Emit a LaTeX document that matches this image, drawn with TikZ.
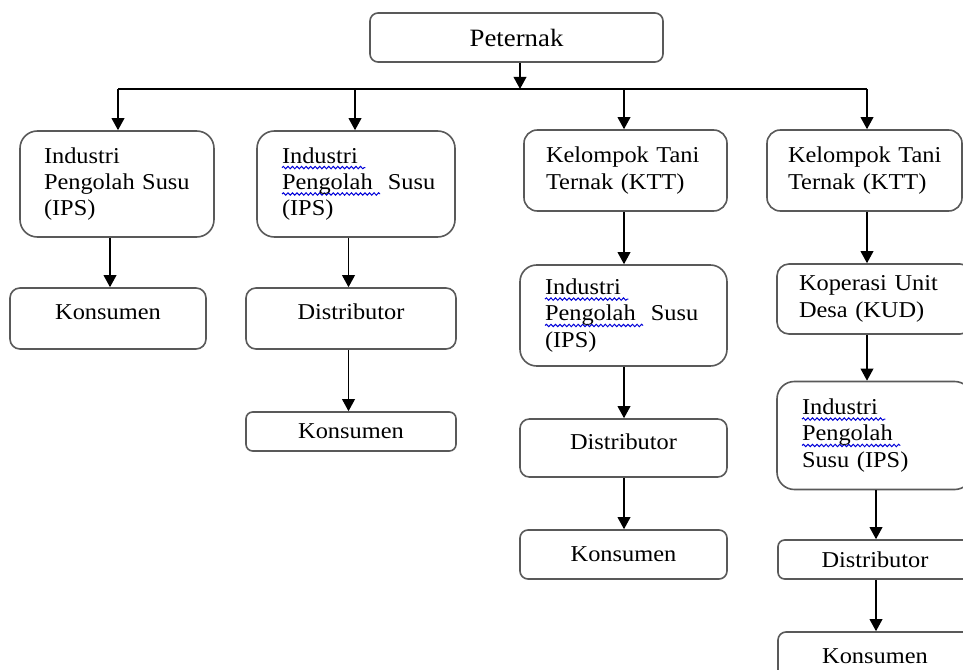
\documentclass[tikz,border=0pt]{standalone}
\usepackage{fontspec}
\setmainfont{Liberation Serif}[FakeStretch=1.075]
\usetikzlibrary{arrows.meta,calc,decorations.pathmorphing}
\newcommand\spellmark[1]{\leavevmode\setbox0\hbox{#1}%
  \rlap{\tikz[overlay,baseline=0pt,x=1pt,y=1pt,sharp corners]\draw[blue!85!black,line width=0.75pt,
    decorate,decoration={snake,segment length=3.4pt,amplitude=0.9pt}]
    (0,-3.4) -- (\the\wd0,-3.4);}\box0}
\begin{document}
\begin{tikzpicture}[x=0.75pt,y=-0.75pt,
  box/.style={draw=black!65,line width=1.2pt,fill=white,inner sep=0pt,
    font=\fontsize{17pt}{19.8pt}\selectfont},
  cbox/.style={box,align=center},
  lbox/.style={box,align=left},
  conn/.style={line width=1.1pt,draw=black},
  arr/.style={conn,-{Triangle[width=9.5pt,length=9pt]}}]
\useasboundingbox (0,0) rectangle (963,670);
\fill[white] (0,0) rectangle (963,670);
\clip (0,0) rectangle (963,670);

% nodes
\node[cbox,minimum width=219.75pt,minimum height=36.75pt,rounded corners=6pt,
  font=\fontsize{18.7pt}{21pt}\selectfont] (peternak) at (516.5,37.5) {Peternak};

\node[lbox,text width=109.5pt,inner xsep=18pt,minimum height=79.5pt,rounded corners=13pt] (ips1) at (117,184)
  {\mbox{Industri}\\\mbox{Pengolah Susu}\\\mbox{(IPS)}};
\node[lbox,text width=111pt,inner xsep=18.75pt,minimum height=79.5pt,rounded corners=13pt] (ips2) at (356,184)
  {\mbox{\spellmark{Industri\ }}\\\mbox{\spellmark{Pengolah\ }\ Susu}\\\mbox{(IPS)}};
\node[lbox,text width=119.25pt,inner xsep=16.5pt,minimum height=60.75pt,rounded corners=10pt] (ktt3) at (625.5,170.5)
  {\mbox{Kelompok Tani}\\\mbox{Ternak (KTT)}};
\node[lbox,text width=114.75pt,inner xsep=15.75pt,minimum height=60.75pt,rounded corners=10pt] (ktt4) at (864.5,170.5)
  {\mbox{Kelompok Tani}\\\mbox{Ternak (KTT)}};

\node[cbox,minimum width=147pt,minimum height=45.75pt,rounded corners=7.5pt,text depth=10pt] (kons1) at (108,318.5) {Konsumen};
\node[cbox,minimum width=157.5pt,minimum height=45.75pt,rounded corners=7.5pt,text depth=10pt] (dist2) at (351,318.5) {Distributor};
\node[cbox,minimum width=157.5pt,minimum height=29.25pt,rounded corners=5pt] (kons2) at (351,431.5) {Konsumen};

\node[lbox,text width=117.75pt,inner xsep=18.75pt,minimum height=75.75pt,rounded corners=12.5pt] (ips3) at (623.5,315.5)
  {\mbox{\spellmark{Industri\ }}\\\mbox{\spellmark{Pengolah\ }\ Susu}\\\mbox{(IPS)}};
\node[cbox,minimum width=155.25pt,minimum height=43.5pt,rounded corners=7pt,text depth=9pt] (dist3) at (623.5,448) {Distributor};
\node[cbox,minimum width=155.25pt,minimum height=36.75pt,rounded corners=6pt] (kons3) at (623.5,554.5) {Konsumen};

\node[lbox,text width=113.25pt,inner xsep=16.5pt,minimum height=52.5pt,rounded corners=9pt] (kud) at (874.5,299)
  {\mbox{Koperasi Unit}\\\mbox{Desa (KUD)}};
\node[lbox,text width=108.75pt,inner xsep=18.75pt,minimum height=81pt,rounded corners=13pt] (ips4) at (874.5,435.5)
  {\mbox{\spellmark{Industri\ }}\\\mbox{\spellmark{Pengolah\ }}\\\mbox{Susu (IPS)}};
\node[cbox,minimum width=145.5pt,minimum height=29.25pt,rounded corners=5pt] (dist4) at (875,559.5) {Distributor};
\node[cbox,minimum width=145.5pt,minimum height=36pt,rounded corners=6pt] (kons4) at (875,656) {Konsumen};

% connectors
\coordinate (jP) at (520,89);
\coordinate (busL) at (118,89);
\coordinate (busR) at (867,89);
\coordinate (d1) at (118,89);
\coordinate (d2) at (355,89);
\coordinate (d3) at (624,89);
\coordinate (d4) at (867,89);
\draw[arr] (jP |- peternak.south) -- (jP);
\draw[conn] (busL) -- (busR);
\draw[arr] (d1) -- (d1 |- ips1.north);
\draw[arr] (d2) -- (d2 |- ips2.north);
\draw[arr] (d3) -- (d3 |- ktt3.north);
\draw[arr] (d4) -- (d4 |- ktt4.north);

\coordinate (c1) at (110,0);
\coordinate (c2) at (348.5,0);
\coordinate (c3) at (624,0);
\coordinate (c4) at (867,0);
\coordinate (c5) at (876,0);
\draw[arr] (c1 |- ips1.south) -- (c1 |- kons1.north);
\draw[arr] (c2 |- ips2.south) -- (c2 |- dist2.north);
\draw[arr] (c2 |- dist2.south) -- (c2 |- kons2.north);
\draw[arr] (c3 |- ktt3.south) -- (c3 |- ips3.north);
\draw[arr] (c3 |- ips3.south) -- (c3 |- dist3.north);
\draw[arr] (c3 |- dist3.south) -- (c3 |- kons3.north);
\draw[arr] (c4 |- ktt4.south) -- (c4 |- kud.north);
\draw[arr] (c4 |- kud.south) -- (c4 |- ips4.north);
\draw[arr] (c5 |- ips4.south) -- (c5 |- dist4.north);
\draw[arr] (c5 |- dist4.south) -- (c5 |- kons4.north);
\end{tikzpicture}
\end{document}
